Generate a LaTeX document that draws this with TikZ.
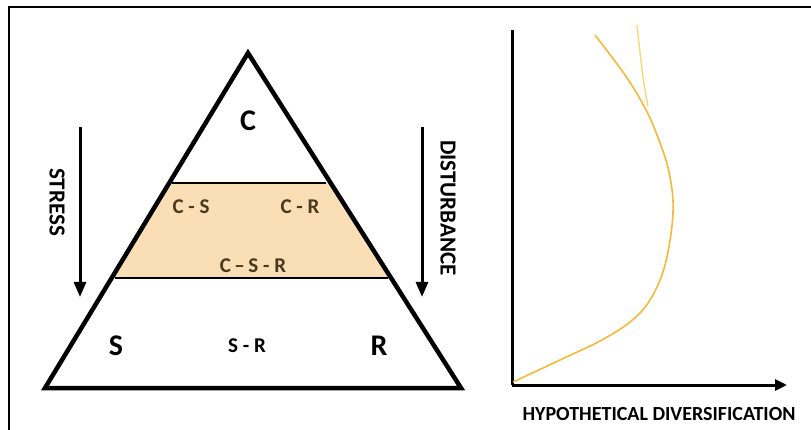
\documentclass[tikz,border=0pt]{standalone}
\usepackage{fontspec}
\setmainfont{Carlito}
\usetikzlibrary{calc,arrows.meta}
\definecolor{peach}{RGB}{250,222,182}
\definecolor{olive}{RGB}{72,58,28}
\definecolor{curveorange}{RGB}{246,184,58}
\definecolor{curvelight}{RGB}{248,212,110}

\begin{document}
\begin{tikzpicture}[x=1pt,y=-1pt,
    big/.style={font=\bfseries\fontsize{30}{34}\selectfont},
    small/.style={font=\bfseries\fontsize{21}{24}\selectfont},
    side/.style={font=\bfseries\fontsize{23}{26}\selectfont,rotate=-90},
    downarrow/.style={line width=3pt,-{Triangle[length=15pt,width=12pt]}},
    axis/.style={line width=3pt}]
    \useasboundingbox (0,0) rectangle (811,430);
    % frame
    \draw [line width=1.5pt] (9,430) -- (9,7) -- (811,7);

    % triangle
    \coordinate (apex) at (248,53);
    \coordinate (bl) at (45,388);
    \coordinate (br) at (461,388);
    \coordinate (tl) at ($(apex)!0.388!(bl)$);
    \coordinate (tr) at ($(apex)!0.388!(br)$);
    \coordinate (ml) at ($(apex)!0.672!(bl)$);
    \coordinate (mr) at ($(apex)!0.672!(br)$);
    \fill [peach] (tl) -- (tr) -- (mr) -- (ml) -- cycle;
    \draw [line width=2.5pt] ($(tl)+(3,0)$) -- ($(tr)+(-5,0)$);
    \draw [line width=2.5pt] ($(ml)+(3,0)$) -- ($(mr)+(-3,0)$);
    \draw [line width=4.5pt,line join=miter] (apex) -- (br) -- (bl) -- cycle;

    \node [big] (lblC) at (248,121) {C};
    \node [small,olive] (lblCS) at (191,207) {C - S};
    \node [small,olive] (lblCR) at (300,207) {C - R};
    \node [small,olive] (lblCSR) at (253,266) {C\,--\,S - R};
    \node [big] (lblS) at (116,346) {S};
    \node [small] (lblSR) at (247,346) {S - R};
    \node [big] (lblR) at (379,346) {R};

    % side arrows
    \coordinate (stressTop) at (80,127);
    \coordinate (stressEnd) at (80,297);
    \coordinate (distTop) at (422,127);
    \coordinate (distEnd) at (422,297);
    \draw [downarrow] (stressTop) -- (stressEnd);
    \draw [downarrow] (distTop) -- (distEnd);
    \node [side] (stress) at (57,202) {STRESS};
    \node [side] (disturb) at (448,208) {DISTURBANCE};

    % diversification plot
    \coordinate (origin) at (512,385);
    \coordinate (ytop) at (512,30);
    \coordinate (xend) at (787,385);
    \draw [axis] (ytop) -- (origin);
    \draw [axis,-{Triangle[length=12pt,width=11pt]}] (origin) -- (xend);
    \node [font=\bfseries\fontsize{20}{23}\selectfont] (xlabel) at (659,414) {HYPOTHETICAL DIVERSIFICATION};

    \draw [curveorange,line width=1.6pt] plot[smooth,tension=0.6] coordinates
        {(513,382) (560,360) (600,341) (630,322) (650,300) (665,265) (673,213)
         (669,172) (657,135) (645,108) (625,75) (595,35)};
    \draw [curvelight,line width=1.3pt] (648,106) .. controls (643,80) .. (637,25);
\end{tikzpicture}
\end{document}
